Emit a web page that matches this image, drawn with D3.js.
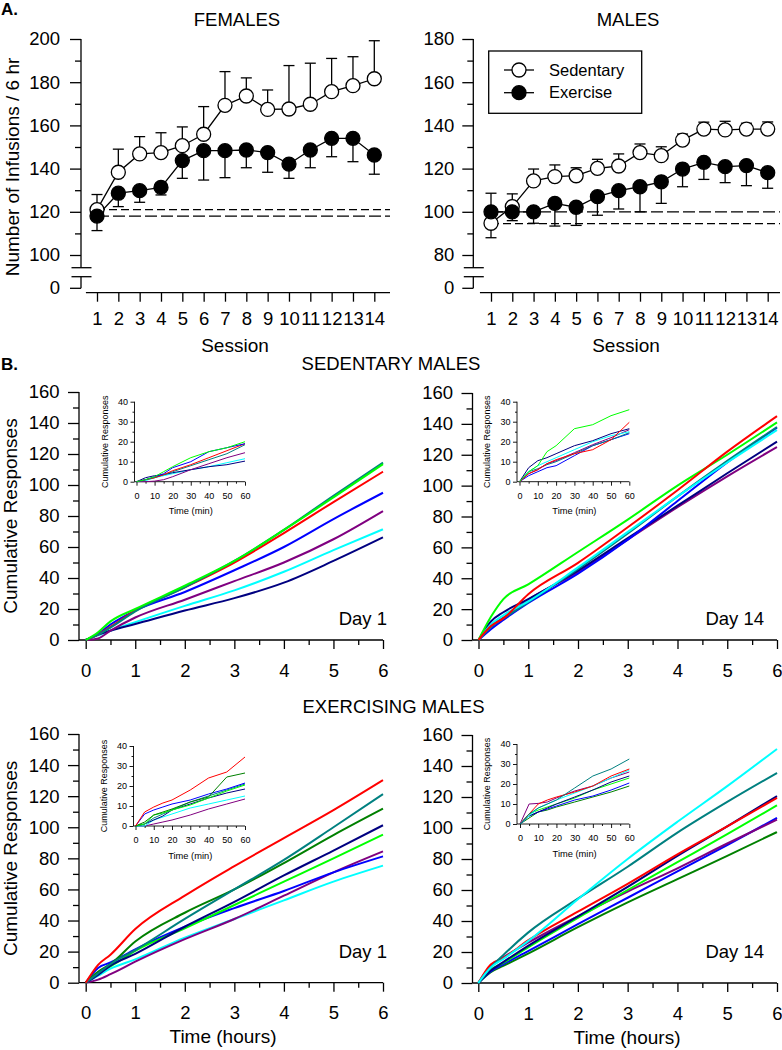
<!DOCTYPE html>
<html>
<head>
<meta charset="utf-8">
<script src="https://cdn.jsdelivr.net/npm/d3@7"></script>
<style>
  body { margin: 0; background: #fff; }
</style>
</head>
<body>
<svg id="fig" width="782" height="1050"></svg>
<script>
// ---- panel A data: infusions per session ----
const sessions = d3.range(1, 15);

const femSed    = [121, 138.3, 146.8, 147.4, 150.6, 155.9, 169.3, 173.6, 167.4, 167.6, 169.8, 175.6, 178.4, 181.6];
const femSedErr = [128, 149, 154.8, 156.6, 159.3, 168.7, 184.9, 182, 176.4, 187.7, 188.8, 191, 191.8, 199.2];
const femEx     = [118, 128.6, 129.8, 131.3, 143.7, 148.3, 148.3, 148.6, 147.4, 142.1, 148.6, 154, 154, 146.3];
const femExErr  = [111.3, 122.4, 124.4, 127.8, 135.5, 134.7, 135.8, 140.4, 138.3, 135.5, 140.4, 145.5, 143.2, 137.4];

const maleSed    = [94.7, 102.4, 114.3, 116.3, 116.7, 120.1, 121.2, 127.4, 126, 133.2, 138.3, 137.9, 138.3, 138.3];
const maleSedErr = [88, 108.3, 119.8, 121.7, 120.4, 124.3, 126.8, 131.4, 130.1, 136, 141.5, 141.9, 141, 141.6];
const maleEx     = [100, 100, 100, 103.9, 102.1, 107, 109.8, 111.6, 113.9, 119.8, 122.9, 120.9, 121.4, 118.1];
const maleExErr  = [108.6, 95.9, 94.7, 93.4, 93.7, 98.4, 101.3, 100, 103.9, 111.6, 115, 113.5, 112.1, 110.9];

// session-1 reference levels (dashed lines)
const femBase  = { sed: 121, ex: 118 };
const maleBase = { sed: 94.5, ex: 100 };

// ---- panel B data: cumulative responses ----
const mainHours = [0, 0.25, 0.5, 1, 2, 3, 4, 5, 6];
const insetMin  = [0, 5, 10, 15, 20, 30, 40, 50, 60];

const colors = {
  red: "#ff0000", lime: "#00ff00", teal: "#008080", blue: "#0000ff",
  purple: "#800080", cyan: "#00ffff", navy: "#000080", dkgreen: "#008000"
};

const sedDay1 = {
  cyan:   [0, 3, 6, 11.5, 22, 32, 44, 58, 71.4],
  navy:   [0, 3.5, 6, 10.3, 19, 27, 37, 51, 66.2],
  purple: [0, 1, 6, 14.5, 26, 38, 50, 65, 83.2],
  blue:   [0, 4, 10, 19, 31, 45, 60, 78, 95],
  red:    [0, 3.5, 8.5, 19, 34, 50, 69, 89, 108.6],
  teal:   [0, 3.5, 8, 18.5, 34, 51, 71, 93, 114.4],
  lime:   [0, 5, 12, 20, 35, 51, 71, 92, 113.5]
};
const sedDay1Inset = {
  cyan:   [0, 0.5, 2, 3, 4, 6, 7.5, 9.5, 11.5],
  navy:   [0, 2, 3, 3.5, 4.5, 6, 7.5, 8.5, 10.3],
  purple: [0, 0, 0.3, 1, 2.5, 6, 9, 12, 14.5],
  teal:   [0, 1, 2, 3.5, 5, 8, 11, 14, 18.5],
  red:    [0, 1, 2, 3.5, 5.5, 8.5, 12, 15.5, 19],
  blue:   [0, 1, 2.5, 4, 7, 10, 15, 17, 19],
  lime:   [0, 1, 2.5, 5, 7.5, 12, 15, 17, 20]
};

const sedDay14 = {
  purple: [0, 9, 14.5, 26, 44, 65, 86, 106, 125],
  navy:   [0, 12, 18, 26.5, 45, 66, 87, 108, 128.5],
  blue:   [0, 7, 13, 24, 43, 65, 90, 115, 137.5],
  teal:   [0, 8.5, 14, 24.5, 46, 69, 93, 116, 138],
  cyan:   [0, 10, 16, 25, 47, 70, 93, 115, 136],
  lime:   [0, 15, 26.5, 36, 57, 78, 100, 120, 141],
  red:    [0, 9, 14, 29.7, 50, 73, 97, 122, 145]
};
const sedDay14Inset = {
  blue:   [0, 3, 5, 7, 8, 13, 18, 21, 24],
  teal:   [0, 5, 6.5, 8.5, 10, 14, 18, 21, 24.5],
  purple: [0, 4, 6, 9, 10.5, 14.5, 18.5, 22, 26],
  cyan:   [0, 5, 8, 10, 12, 16, 20, 23, 25],
  navy:   [0, 7, 10.5, 12, 14, 18, 20.5, 24, 26.5],
  red:    [0, 4, 6, 9, 11, 14, 16, 21, 29.7],
  lime:   [0, 5, 8, 15, 18, 26.5, 28.5, 33, 36]
};

const exDay1 = {
  cyan:    [0, 4.5, 9, 15, 29, 41, 53, 65, 75.3],
  purple:  [0, 2, 5.5, 13.5, 28, 41, 56, 71, 84.5],
  blue:    [0, 9.5, 13, 21.5, 36, 48, 59, 71, 81.3],
  lime:    [0, 6.5, 10.5, 20.5, 35, 50, 65, 80, 95.3],
  navy:    [0, 5, 11, 18.5, 36, 52, 69, 85, 101.3],
  dkgreen: [0, 7, 12, 26.5, 45, 60, 77, 95, 112],
  teal:    [0, 6, 12, 21, 41, 60, 79, 100, 121.3],
  red:     [0, 11.5, 18, 34.5, 56, 75, 93, 111, 130.3]
};
const exDay1Inset = {
  purple:  [0, 0, 1, 2, 3, 5.5, 8.5, 11, 13.5],
  cyan:    [0, 0, 3, 4.5, 6, 9, 11, 13, 15],
  navy:    [0, 1, 3, 5, 8, 11, 14, 16.5, 18.5],
  teal:    [0, 1, 4, 6, 8, 12, 15, 18, 21],
  lime:    [0, 1, 5.5, 6.5, 8, 10.5, 14, 17.5, 20.5],
  blue:    [0, 6, 8, 9.5, 11, 13, 16, 18.5, 21.5],
  dkgreen: [0, 2, 5.5, 7, 8.5, 12, 14.5, 24.5, 26.5],
  red:     [0, 7, 9.5, 11.5, 13, 18, 24, 27, 34.5]
};

const exDay14 = {
  dkgreen: [0, 7, 11, 19, 36, 52, 67, 82, 97.4],
  blue:    [0, 7.5, 12, 20.5, 38, 55, 72, 89, 106.5],
  purple:  [0, 11, 16.5, 26, 43, 59, 74, 90, 105.4],
  lime:    [0, 8.5, 13, 23, 42, 60, 78, 96, 114.6],
  navy:    [0, 8, 13.5, 24, 43, 62, 82, 101, 120.6],
  red:     [0, 12, 16, 27.5, 46, 64, 83, 101, 119.4],
  teal:    [0, 10, 18, 32.5, 54.4, 75, 97, 116.8, 135.5],
  cyan:    [0, 10, 15.5, 27, 54, 80, 104, 127, 151]
};
const exDay14Inset = {
  dkgreen: [0, 3, 6, 7, 8.5, 11, 13.5, 16, 19],
  blue:    [0, 4, 6, 7.5, 9, 12, 14, 17, 20.5],
  lime:    [0, 5, 7, 8.5, 10, 13, 17, 20, 23],
  navy:    [0, 4, 6, 8, 10, 13.5, 17, 21, 24],
  purple:  [0, 10, 10.3, 11, 13, 16.5, 19, 23, 26],
  cyan:    [0, 4, 8, 10, 12, 15.5, 19, 23, 27],
  red:     [0, 5, 10, 12, 13.5, 16, 19, 24, 27.5],
  teal:    [0, 5, 8, 10, 12, 18, 24, 27.5, 32.5]
};

// ---- drawing ----
const FONT = "'Liberation Sans', Arial, Helvetica, sans-serif";
const svg = d3.select("#fig").attr("font-family", FONT);

function styleAxis(sel, fs, sw) {
  sel.attr("font-family", FONT).attr("font-size", fs);
  sel.select(".domain").remove();
  sel.selectAll("line").attr("stroke", "#000").attr("stroke-width", sw);
  sel.selectAll("text").attr("fill", "#000");
}

function label(txt, x, y, size, anchor, weight) {
  return svg.append("text")
    .attr("x", x).attr("y", y)
    .attr("font-size", size)
    .attr("text-anchor", anchor || "middle")
    .attr("font-weight", weight || "normal")
    .text(txt);
}

// Panel A: sessions
function sessionPanel(o) {
  const g = svg.append("g");
  const x = d3.scaleLinear().domain([1, 14]).range(o.xr);
  const y = d3.scaleLinear().domain(o.yd).range([255, 39]);
  const ax = o.ax;
  const yLow = y(o.yd[0]);
  const brk1 = yLow + 12.7, brk2 = yLow + 21.7, zeroY = yLow + 33.3;

  g.append("g").attr("transform", `translate(${ax},0)`)
    .call(d3.axisLeft(y).tickValues(d3.range(o.yd[0], o.yd[1] + 1, 20)).tickSize(11).tickPadding(o.pad))
    .call(s => styleAxis(s, 18.5, 1.3));
  g.append("g").attr("transform", `translate(${ax},0)`)
    .call(d3.axisLeft(y).tickValues(d3.range(o.yd[0] + 10, o.yd[1], 20)).tickSize(6).tickFormat(""))
    .call(s => styleAxis(s, 18.5, 1.3));

  // broken y axis
  g.append("line").attr("x1", ax).attr("x2", ax).attr("y1", y(o.yd[1])).attr("y2", brk1)
    .attr("stroke", "#000").attr("stroke-width", 1.3);
  g.append("line").attr("x1", ax).attr("x2", ax).attr("y1", brk2).attr("y2", zeroY)
    .attr("stroke", "#000").attr("stroke-width", 1.3);
  [brk1, brk2].forEach(b => g.append("line").attr("x1", ax - 9.5).attr("x2", ax + 10.5)
    .attr("y1", b).attr("y2", b).attr("stroke", "#000").attr("stroke-width", 1.3));
  g.append("line").attr("x1", ax - 11).attr("x2", ax).attr("y1", zeroY).attr("y2", zeroY)
    .attr("stroke", "#000").attr("stroke-width", 1.3);
  g.append("text").attr("x", ax - 11 - o.pad).attr("y", zeroY).attr("dy", "0.32em")
    .attr("text-anchor", "end").attr("font-size", 18.5).text("0");

  // x axis (detached)
  const xAxisY = 292.7;
  g.append("g").attr("transform", `translate(0,${xAxisY})`)
    .call(d3.axisBottom(x).tickValues(sessions).tickSize(9).tickPadding(10.2).tickFormat(d3.format("d")))
    .call(s => styleAxis(s, 18.5, 1.3));
  g.append("line").attr("x1", x(0.48)).attr("x2", o.xEnd).attr("y1", xAxisY).attr("y2", xAxisY)
    .attr("stroke", "#000").attr("stroke-width", 1.3);

  // dashed session-1 levels
  g.append("line").attr("x1", x(1)).attr("x2", o.xEnd).attr("y1", y(o.base.sed)).attr("y2", y(o.base.sed))
    .attr("stroke", "#000").attr("stroke-width", 1.3).attr("stroke-dasharray", "8,4");
  g.append("line").attr("x1", x(1)).attr("x2", o.xEnd).attr("y1", y(o.base.ex)).attr("y2", y(o.base.ex))
    .attr("stroke", "#000").attr("stroke-width", 1.3).attr("stroke-dasharray", "12,4");

  const groups = [
    { v: o.sed, e: o.sedErr, fill: "#fff" },
    { v: o.ex, e: o.exErr, fill: "#000" }
  ];
  groups.forEach(gr => {
    const bars = g.append("g");
    sessions.forEach((s, i) => {
      bars.append("line").attr("x1", x(s)).attr("x2", x(s)).attr("y1", y(gr.v[i])).attr("y2", y(gr.e[i]))
        .attr("stroke", "#000").attr("stroke-width", 1.3);
      bars.append("line").attr("x1", x(s) - 5.5).attr("x2", x(s) + 5.5).attr("y1", y(gr.e[i])).attr("y2", y(gr.e[i]))
        .attr("stroke", "#000").attr("stroke-width", 1.3);
    });
  });
  groups.forEach(gr => {
    g.append("path").datum(sessions.map((s, i) => [s, gr.v[i]]))
      .attr("d", d3.line().x(d => x(d[0])).y(d => y(d[1])))
      .attr("fill", "none").attr("stroke", "#000").attr("stroke-width", 1.3);
  });
  groups.forEach(gr => {
    g.append("g").selectAll("circle").data(sessions.map((s, i) => [s, gr.v[i]])).enter()
      .append("circle").attr("cx", d => x(d[0])).attr("cy", d => y(d[1])).attr("r", 7)
      .attr("fill", gr.fill).attr("stroke", "#000").attr("stroke-width", 1.3);
  });

  label(o.title, o.titleX, 26, 18.5);
  label("Session", o.titleX - 2, 352, 19);
  return g;
}

sessionPanel({
  ax: 81, xr: [97, 374.3], xEnd: 390, yd: [100, 200], pad: 10,
  sed: femSed, sedErr: femSedErr, ex: femEx, exErr: femExErr, base: femBase,
  title: "FEMALES", titleX: 237
});
sessionPanel({
  ax: 473.3, xr: [491, 767.7], xEnd: 780, yd: [80, 180], pad: 8,
  sed: maleSed, sedErr: maleSedErr, ex: maleEx, exErr: maleExErr, base: maleBase,
  title: "MALES", titleX: 628
});

label("A.", 1, 15, 17, "start", "bold");
svg.append("text").attr("transform", "translate(19,167) rotate(-90)")
  .attr("text-anchor", "middle").attr("font-size", 19).text("Number of Infusions / 6 hr");

// legend in MALES panel
const lg = svg.append("g");
lg.append("rect").attr("x", 488.7).attr("y", 51).attr("width", 153).attr("height", 62.3)
  .attr("fill", "#fff").attr("stroke", "#000").attr("stroke-width", 1.3);
[["Sedentary", "#fff", 70], ["Exercise", "#000", 92.7]].forEach(([t, f, yy]) => {
  lg.append("line").attr("x1", 504).attr("x2", 534).attr("y1", yy).attr("y2", yy)
    .attr("stroke", "#000").attr("stroke-width", 1.3);
  lg.append("circle").attr("cx", 519).attr("cy", yy).attr("r", 7)
    .attr("fill", f).attr("stroke", "#000").attr("stroke-width", 1.3);
  lg.append("text").attr("x", 549).attr("y", yy).attr("dy", "0.35em")
    .attr("font-size", 16.5).text(t);
});

// Panel B: cumulative responses
function cumPanel(o) {
  const g = svg.append("g");
  const x = d3.scaleLinear().domain([0, 6]).range([o.x0, o.x6]);
  const y = d3.scaleLinear().domain([0, 160]).range([o.y0, o.y160]);

  g.append("g").attr("transform", `translate(${o.ax},0)`)
    .call(d3.axisLeft(y).tickValues(d3.range(0, 161, 20)).tickSize(11).tickPadding(8.5).tickFormat(d3.format("d")))
    .call(s => styleAxis(s, 18.5, 1.3));
  g.append("g").attr("transform", `translate(${o.ax},0)`)
    .call(d3.axisLeft(y).tickValues(d3.range(10, 160, 20)).tickSize(6).tickFormat(""))
    .call(s => styleAxis(s, 18.5, 1.3));
  g.append("line").attr("x1", o.ax).attr("x2", o.ax).attr("y1", o.y0).attr("y2", o.y160)
    .attr("stroke", "#000").attr("stroke-width", 1.3);

  g.append("g").attr("transform", `translate(0,${o.y0})`)
    .call(d3.axisBottom(x).tickValues(d3.range(0, 7)).tickSize(9).tickPadding(14.6).tickFormat(d3.format("d")))
    .call(s => styleAxis(s, 18.5, 1.3));
  g.append("g").attr("transform", `translate(0,${o.y0})`)
    .call(d3.axisBottom(x).tickValues(d3.range(0.5, 6, 1)).tickSize(5).tickFormat(""))
    .call(s => styleAxis(s, 18.5, 1.3));
  g.append("line").attr("x1", o.ax).attr("x2", o.x6).attr("y1", o.y0).attr("y2", o.y0)
    .attr("stroke", "#000").attr("stroke-width", 1.3);

  const line = d3.line().x(d => x(d[0])).y(d => y(d[1])).curve(d3.curveMonotoneX);
  Object.keys(o.data).forEach(k => {
    g.append("path").datum(mainHours.map((h, i) => [h, o.data[k][i]]))
      .attr("d", line).attr("fill", "none").attr("stroke", colors[k])
      .attr("stroke-width", 2).attr("stroke-linejoin", "round");
  });

  label(o.day, o.dayX, o.dayY, 18.5, "end");
  if (o.ylab) {
    svg.append("text").attr("transform", `translate(16.5,${(o.y0 + o.y160) / 2}) rotate(-90)`)
      .attr("text-anchor", "middle").attr("font-size", 19).text("Cumulative Responses");
  }
  if (o.xlab) label("Time (hours)", o.xlabX, o.y0 + 60.5, 19);

  // inset: first hour in minutes
  const n = o.inset;
  const xi = d3.scaleLinear().domain([0, 60]).range([n.x0, n.x60]);
  const yi = d3.scaleLinear().domain([0, 40]).range([n.y0, n.y0 - 80]);
  const ig = g.append("g");
  ig.append("g").attr("transform", `translate(${n.ax},0)`)
    .call(d3.axisLeft(yi).tickValues(d3.range(0, 41, 10)).tickSize(4).tickPadding(2.6).tickFormat(d3.format("d")))
    .call(s => styleAxis(s, 9, 0.9));
  ig.append("g").attr("transform", `translate(${n.ax},0)`)
    .call(d3.axisLeft(yi).tickValues(d3.range(5, 40, 10)).tickSize(2).tickFormat(""))
    .call(s => styleAxis(s, 9, 0.9));
  ig.append("line").attr("x1", n.ax).attr("x2", n.ax).attr("y1", n.y0).attr("y2", yi(40))
    .attr("stroke", "#000").attr("stroke-width", 0.9);
  ig.append("g").attr("transform", `translate(0,${n.y0})`)
    .call(d3.axisBottom(xi).tickValues(d3.range(0, 61, 10)).tickSize(4).tickPadding(6.6).tickFormat(d3.format("d")))
    .call(s => styleAxis(s, 9, 0.9));
  ig.append("g").attr("transform", `translate(0,${n.y0})`)
    .call(d3.axisBottom(xi).tickValues(d3.range(5, 60, 10)).tickSize(2).tickFormat(""))
    .call(s => styleAxis(s, 9, 0.9));
  ig.append("line").attr("x1", n.ax).attr("x2", n.x60).attr("y1", n.y0).attr("y2", n.y0)
    .attr("stroke", "#000").attr("stroke-width", 0.9);

  const iline = d3.line().x(d => xi(d[0])).y(d => yi(d[1]));
  Object.keys(o.insetData).forEach(k => {
    ig.append("path").datum(insetMin.map((m, i) => [m, o.insetData[k][i]]))
      .attr("d", iline).attr("fill", "none").attr("stroke", colors[k]).attr("stroke-width", 1);
  });
  ig.append("text").attr("x", (n.x0 + n.x60) / 2).attr("y", n.y0 + 32.5)
    .attr("text-anchor", "middle").attr("font-size", 9.3).text("Time (min)");
  ig.append("text").attr("transform", `translate(${n.ax - 27},${n.y0 - 40}) rotate(-90)`)
    .attr("text-anchor", "middle").attr("font-size", 9).text("Cumulative Responses");
}

cumPanel({
  ax: 79, x0: 85.7, x6: 383, y0: 640, y160: 392, data: sedDay1, insetData: sedDay1Inset,
  day: "Day 1", dayX: 387, dayY: 625, ylab: true,
  inset: { ax: 134.5, x0: 136.5, x60: 245, y0: 481.7 }
});
cumPanel({
  ax: 472.5, x0: 478.5, x6: 777, y0: 640, y160: 393, data: sedDay14, insetData: sedDay14Inset,
  day: "Day 14", dayX: 764, dayY: 625,
  inset: { ax: 517, x0: 519.5, x60: 629.3, y0: 481.7 }
});
cumPanel({
  ax: 79, x0: 85.7, x6: 383, y0: 982.7, y160: 734, data: exDay1, insetData: exDay1Inset,
  day: "Day 1", dayX: 387, dayY: 958, ylab: true, xlab: true, xlabX: 223,
  inset: { ax: 133.5, x0: 135.5, x60: 245, y0: 826 }
});
cumPanel({
  ax: 472.5, x0: 478.3, x6: 777, y0: 983, y160: 735, data: exDay14, insetData: exDay14Inset,
  day: "Day 14", dayX: 764, dayY: 958, xlab: true, xlabX: 627,
  inset: { ax: 517, x0: 520, x60: 629.3, y0: 824 }
});

label("B.", 1, 370, 17, "start", "bold");
label("SEDENTARY MALES", 391, 370, 18.5);
label("EXERCISING MALES", 393.5, 713, 18.5);
</script>
</body>
</html>
